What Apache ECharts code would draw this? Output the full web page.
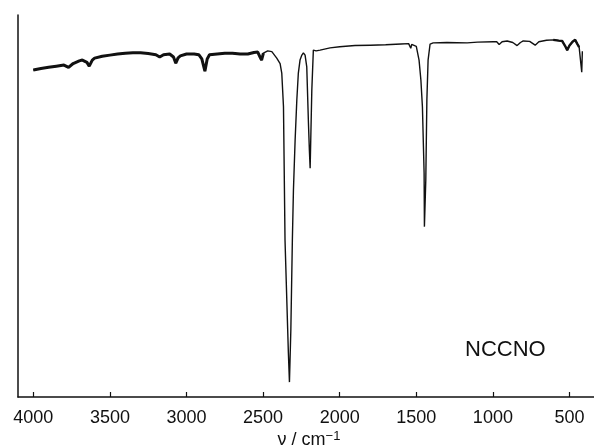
<!DOCTYPE html>
<html>
<head>
<meta charset="utf-8">
<script src="https://cdn.jsdelivr.net/npm/echarts@6/dist/echarts.min.js"></script>
<style>html,body{margin:0;padding:0;background:#fff}#c{width:594px;height:446px}</style>
</head>
<body>
<div id="c"></div>
<script>
var wavenumbers = [4000,3950,3900,3850,3800,3770,3740,3700,3680,3650,3635,3615,3600,3550,3500,3450,3400,3350,3300,3250,3200,3175,3150,3110,3085,3070,3055,3040,3000,2950,2920,2900,2880,2865,2850,2800,2750,2700,2650,2600,2560,2535,2520,2510,2498,2470,2443,2411,2389,2378,2367,2357,2335,2328,2319,2309,2302,2291,2280,2270,2259,2247,2237,2226,2215,2204,2198,2193,2189,2182,2172,2154,2128,2063,2000,1900,1800,1700,1600,1550,1540,1536,1530,1519,1500,1482,1470,1460,1449,1447,1443,1438,1431,1423,1410,1390,1300,1168,1100,998,975,959,940,907,870,842,820,802,760,724,700,691,650,606,570,548,530,515,500,480,463,450,437,428,420,416];
var transmittance = [85.6,86.0,86.3,86.6,86.9,86.3,87.3,88.0,88.2,87.6,86.6,88.2,88.7,89.2,89.5,89.8,90.0,90.1,90.1,89.9,89.6,89.0,89.6,89.8,89.0,87.4,88.8,89.3,89.8,89.8,89.6,88.5,85.3,88.5,89.6,89.8,90.0,90.0,89.8,89.8,90.2,90.3,89.0,88.2,90.0,90.6,90.4,88.7,87.3,84.7,76.0,41.1,11.5,3.9,17.5,41.1,54.2,67.3,77.7,84.8,88.2,89.5,90.1,89.5,86.4,71.7,64.7,59.9,67.3,80.4,90.8,90.6,90.8,91.4,91.7,92.0,92.1,92.2,92.4,92.5,92.4,91.3,92.3,92.4,91.8,88.2,83.0,75.9,58.6,44.6,50.0,56.8,77.7,88.2,92.4,92.7,92.8,92.7,92.9,93.0,93.0,92.3,93.0,93.2,92.8,92.0,92.8,93.2,93.1,92.1,93.0,93.2,93.4,93.5,93.3,93.2,92.0,90.8,92.0,93.0,93.5,92.5,91.6,91.5,85.0,90.5];
var xTicks = [4000,3500,3000,2500,2000,1500,1000,500];
var sampleName = 'NCCNO';

var pts = wavenumbers.map(function(v,i){return [v, transmittance[i]];});
var noisyHigh = pts.filter(function(p){return p[0] >= 2480;});
var noisyLow = pts.filter(function(p){return p[0] <= 620 && p[0] >= 430;});

var chart = echarts.init(document.getElementById('c'), null, {renderer:'canvas'});
chart.setOption({
  animation:false,
  backgroundColor:'#fff',
  grid:{left:18,right:0,top:15,bottom:49,outerBoundsMode:'none',containLabel:false},
  xAxis:{
    type:'value', inverse:true, min:340, max:4100,
    axisLine:{show:true,lineStyle:{color:'#111',width:1.5}},
    axisTick:{show:true,inside:true,length:5,customValues:xTicks,lineStyle:{color:'#111',width:1.2}},
    axisLabel:{show:true,customValues:xTicks,color:'#111',fontSize:18,fontFamily:'Liberation Sans',margin:12,
      formatter:function(v){return String(v);}},
    splitLine:{show:false},
    name:'ν / cm{sup|−1}',
    nameLocation:'middle', nameGap:33, nameMoveOverlap:false,
    nameTextStyle:{color:'#111',fontSize:18,fontFamily:'Liberation Sans',lineHeight:20,padding:[0,0,0,6],
      rich:{sup:{fontSize:13,fontFamily:'Liberation Sans',color:'#111',verticalAlign:'top',lineHeight:20}}}
  },
  yAxis:{
    type:'value', min:0, max:100,
    axisLine:{show:true,lineStyle:{color:'#111',width:1.5}},
    axisTick:{show:false}, axisLabel:{show:false}, splitLine:{show:false}
  },
  series:[
    {type:'line',data:pts,showSymbol:false,smooth:false,lineStyle:{color:'#111',width:1.4}},
    {type:'line',data:noisyHigh,showSymbol:false,smooth:false,lineStyle:{color:'#111',width:3}},
    {type:'line',data:noisyLow,showSymbol:false,smooth:false,lineStyle:{color:'#111',width:2.4}}
  ],
  graphic:[{type:'text',left:465,top:339,style:{text:sampleName,fill:'#111',fontSize:22,fontFamily:'Liberation Sans'}}]
});
</script>
</body>
</html>
